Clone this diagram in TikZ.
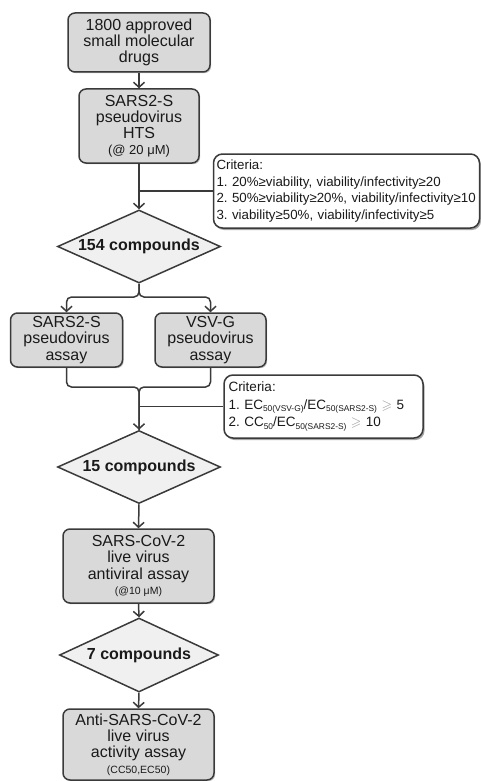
\documentclass[tikz,border=0pt]{standalone}
\usepackage{fontspec}
\usepackage{amssymb}
\setmainfont{Liberation Sans}
\usetikzlibrary{shapes.geometric,arrows.meta,shadows}
\definecolor{boxfill}{HTML}{D9D9D9}
\definecolor{diafill}{HTML}{F0F0F0}
\definecolor{edge}{HTML}{3A3A3A}
\definecolor{txt}{HTML}{1A1A1A}
\definecolor{geq}{HTML}{9A9A9A}
\newcommand\mysub[1]{\raisebox{-0.17em}{\fontsize{8.4}{9}\selectfont #1}}
\newcommand\mygeq{\textcolor{geq}{$\geqslant$}}
\tikzset{
  stepbox/.style={draw=edge, line width=1.5pt, fill=boxfill, rounded corners=7pt,
    align=center, text=txt, inner sep=0pt,
    font=\fontsize{16}{16.3}\selectfont,
    drop shadow={shadow xshift=1.2pt, shadow yshift=-1.2pt, opacity=0.25, fill=black}},
  decision/.style={draw=edge, line width=1.5pt, fill=diafill, shape=diamond, aspect=2.23,
    inner sep=0pt, minimum width=163pt, minimum height=73pt, text=txt,
    font=\bfseries\fontsize{16}{18}\selectfont},
  critbox/.style={draw=edge, line width=1.5pt, fill=white, rounded corners=9pt,
    align=left, text=txt, inner sep=0pt,
    font=\frenchspacing\fontsize{13.3}{16.7}\selectfont,
    drop shadow={shadow xshift=1.5pt, shadow yshift=-2pt, opacity=0.35, fill=black}},
  conn/.style={draw=edge, line width=1.5pt},
  arr/.style={conn, -{Straight Barb[length=5pt,width=11pt]}},
}
\begin{document}
\begin{tikzpicture}[x=1pt,y=-1pt]
\useasboundingbox (0,0) rectangle (481,781);
\begin{scope}
\clip (0,0) rectangle (481,781);
\node[stepbox, minimum width=142pt, minimum height=59pt] (b1) at (139,42.5)
  {1800 approved\\small molecular\\drugs};
\node[stepbox, minimum width=120pt, minimum height=74pt] (b2) at (139,126)
  {SARS2-S\\pseudovirus\\HTS\\[-1pt]{\fontsize{13}{14}\selectfont(@ 20 μM)}};
\node[critbox, minimum width=266pt, minimum height=74pt, text width=260pt, inner xsep=3pt] (c1) at (346.5,191)
  {Criteria:\\1. 20\%≥viability, viability/infectivity≥20\\2. 50\%≥viability≥20\%, viability/infectivity≥10\\3. viability≥50\%, viability/infectivity≥5};
\node[decision] (d1) at (139,246.5) {154 compounds};
\node[stepbox, minimum width=112pt, minimum height=54pt] (b3) at (66.5,340)
  {SARS2-S\\pseudovirus\\assay};
\node[stepbox, minimum width=111pt, minimum height=54pt] (b4) at (210.5,340)
  {VSV-G\\pseudovirus\\assay};
\node[critbox, minimum width=199pt, minimum height=63pt, text width=190pt, inner xsep=4.5pt,
  font=\frenchspacing\fontsize{13.5}{17.5}\selectfont] (c2) at (323.5,406.5)
  {Criteria:\\1. EC\mysub{50(VSV-G)}/EC\mysub{50(SARS2-S)} \mygeq{} 5\\2. CC\mysub{50}/EC\mysub{50(SARS2-S)} \mygeq{} 10};
\node[decision] (d2) at (139,467) {15 compounds};
\node[stepbox, minimum width=151pt, minimum height=74pt] (b5) at (138.5,566)
  {SARS-CoV-2\\live virus\\antiviral assay\\[-1pt]{\fontsize{10.5}{12}\selectfont(@10 μM)}};
\node[decision, minimum width=159pt, minimum height=74pt] (d3) at (139,655) {7 compounds};
\node[stepbox, minimum width=151pt, minimum height=71pt] (b6) at (138.5,744.5)
  {Anti-SARS-CoV-2\\live virus\\activity assay\\[-1pt]{\fontsize{10.5}{12}\selectfont(CC50,EC50)}};

\coordinate (s1) at (139,297);
\coordinate (m1) at (139,387);

\draw[arr] (b1.south) -- (b2.north);
\draw[arr] (b2.south) -- (d1.north);
\draw[conn] (b2.south |- c1.west) -- (c1.west);
\draw[arr, rounded corners=5pt] (d1.south) -- (s1) -| (b3.north);
\draw[arr, rounded corners=5pt] (d1.south) -- (s1) -| (b4.north);
\draw[conn, rounded corners=5pt] (b4.south) |- (m1) -- (d2.north);
\draw[arr, rounded corners=5pt] (b3.south) |- (m1) -- (d2.north);
\draw[conn] (d2.north |- c2.west) -- (c2.west);
\draw[arr] (d2.south) -- (b5.north);
\draw[arr] (b5.south) -- (d3.north);
\draw[arr] (d3.south) -- (b6.north);
\end{scope}
\end{tikzpicture}
\end{document}
